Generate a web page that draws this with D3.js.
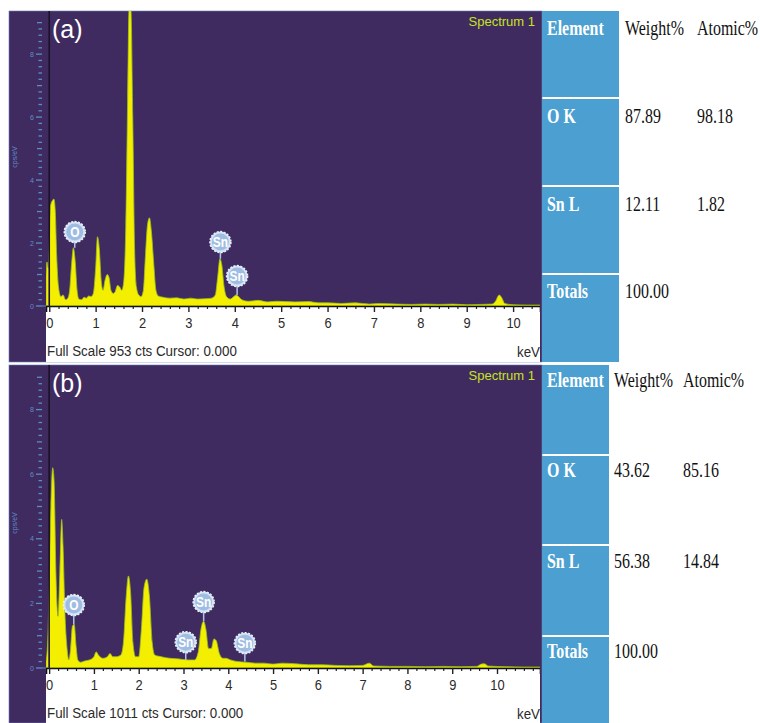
<!DOCTYPE html>
<html><head><meta charset="utf-8">
<script src="https://cdn.jsdelivr.net/npm/d3@7"></script>
<style>body{margin:0;background:#fff} svg{display:block}</style>
</head><body>
<svg id="c" width="760" height="723"></svg>
<script>
// ---------- DATA ----------
const xTickValues = [0,1,2,3,4,5,6,7,8,9,10];
const yTickLabels = [0,2,4,6,8];
const tableHeaders = ["Element","Weight%","Atomic%"];

// Panel (a) spectrum (keV, cps/eV)
const energyA = [-0.07,-0.05,-0.02,0.0,0.03,0.07,0.1,0.13,0.16,0.2,0.25,0.3,0.35,0.4,0.44,0.48,0.52,0.56,0.6,0.64,0.7,0.75,0.8,0.85,0.9,0.95,1.0,1.04,1.08,1.12,1.16,1.2,1.25,1.29,1.33,1.38,1.42,1.47,1.52,1.56,1.6,1.65,1.69,1.72,1.76,1.8,1.84,1.88,1.93,1.98,2.03,2.07,2.12,2.16,2.2,2.25,2.3,2.35,2.45,2.6,2.75,2.9,3.05,3.2,3.35,3.5,3.58,3.63,3.68,3.72,3.77,3.82,3.9,3.98,4.03,4.08,4.15,4.3,4.5,4.7,4.9,5.1,5.3,5.6,5.8,6.0,6.3,6.6,6.9,7.1,7.5,7.8,8.1,8.4,8.7,9.0,9.3,9.55,9.62,9.7,9.76,9.82,10.0,10.3,10.58];
const countsA = [0.9,1.4,1.2,2.0,3.2,3.35,3.4,3.0,1.6,0.6,0.3,0.35,0.2,0.25,0.5,1.3,1.85,1.4,0.5,0.22,0.2,0.28,0.25,0.32,0.3,0.4,1.2,2.2,1.8,0.8,0.5,0.8,1.0,0.9,0.5,0.4,0.45,0.65,0.6,0.5,0.7,2.5,6.5,9.4,9.4,6.0,1.8,0.6,0.35,0.3,0.5,1.5,2.6,2.8,2.4,1.4,0.5,0.32,0.28,0.25,0.26,0.22,0.25,0.22,0.23,0.25,0.35,0.9,1.5,1.3,0.6,0.3,0.22,0.3,0.35,0.3,0.2,0.15,0.18,0.13,0.15,0.14,0.13,0.14,0.1,0.1,0.08,0.1,0.06,0.08,0.06,0.05,0.06,0.05,0.06,0.04,0.05,0.06,0.15,0.35,0.25,0.08,0.04,0.03,0.03];

// Panel (b) spectrum (keV, cps/eV)
const energyB = [-0.07,-0.03,0.0,0.04,0.08,0.11,0.15,0.2,0.24,0.28,0.31,0.35,0.4,0.44,0.48,0.52,0.56,0.6,0.64,0.7,0.8,0.9,1.0,1.05,1.1,1.2,1.3,1.36,1.42,1.5,1.6,1.66,1.72,1.77,1.82,1.87,1.93,2.0,2.06,2.12,2.18,2.24,2.3,2.36,2.5,2.7,2.9,3.1,3.25,3.33,3.39,3.45,3.5,3.56,3.62,3.68,3.73,3.8,3.88,3.95,4.05,4.2,4.4,4.6,4.8,5.0,5.2,5.5,5.8,6.1,6.4,6.7,7.0,7.15,7.25,7.6,8.0,8.4,8.8,9.2,9.55,9.65,9.72,9.8,10.2,10.6,10.96];
const countsB = [0.2,0.9,2.5,5.0,6.2,5.8,3.0,1.6,3.0,4.6,3.8,1.8,0.6,0.25,0.6,1.3,1.35,0.7,0.25,0.18,0.22,0.25,0.35,0.5,0.4,0.3,0.35,0.45,0.35,0.35,0.4,0.8,2.2,2.85,2.3,0.8,0.35,0.35,1.2,2.5,2.75,2.2,0.8,0.4,0.35,0.3,0.28,0.25,0.25,0.5,1.2,1.45,1.2,0.6,0.6,0.9,0.85,0.45,0.3,0.3,0.25,0.2,0.18,0.15,0.15,0.12,0.15,0.13,0.1,0.1,0.08,0.07,0.08,0.15,0.06,0.05,0.05,0.04,0.05,0.04,0.05,0.12,0.13,0.06,0.04,0.03,0.03];

// Peak markers: element, energy, label height, peak top
const markElA = ["O","Sn","Sn"];
const markKeVA = [0.55,3.69,4.05];
const markYA = [2.35,2.03,0.95];
const markPeakA = [1.85,1.5,0.35];
const markElB = ["O","Sn","Sn","Sn"];
const markKeVB = [0.55,3.05,3.45,4.37];
const markYB = [1.95,0.8,2.04,0.77];
const markPeakB = [1.35,0.25,1.45,0.2];

// Tables
const elementsA = ["O K","Sn L","Totals"];
const weightA = ["87.89","12.11","100.00"];
const atomicA = ["98.18","1.82",""];
const elementsB = ["O K","Sn L","Totals"];
const weightB = ["43.62","56.38","100.00"];
const atomicB = ["85.16","14.84",""];

// ---------- DRAW ----------
const svg = d3.select("#c");
const PURPLE = "#402b61";
const BLUE = "#4b9fd1";
const sans = "'Liberation Sans',Arial,sans-serif";

function drawPanel(p) {
  const g = svg.append("g");
  const x = d3.scaleLinear().domain(p.xDomain).range([46, 540]);
  const y = d3.scaleLinear().domain([0, p.yMax]).range([p.axisY, p.top]);

  g.append("rect").attr("x", 9).attr("y", p.top).attr("width", 533).attr("height", p.bottom - p.top)
    .attr("fill", PURPLE).attr("stroke", "#6a7db5").attr("stroke-width", 0.6);
  g.append("rect").attr("x", 46).attr("y", p.axisY).attr("width", 494).attr("height", p.bottom - p.axisY)
    .attr("fill", "#fff");

  const clipId = "clip" + p.name;
  svg.append("clipPath").attr("id", clipId).append("rect")
    .attr("x", 46).attr("y", p.top).attr("width", 494).attr("height", p.axisY - p.top);

  const pts = p.energy.map((e, i) => [e, p.counts[i]]);
  const area = d3.area().x(d => x(d[0])).y0(p.axisY).y1(d => y(d[1])).curve(d3.curveMonotoneX);
  g.append("path").datum(pts).attr("d", area).attr("clip-path", `url(#${clipId})`)
    .attr("fill", "#f4ef00").attr("stroke", "#9cc21c").attr("stroke-width", 0.8);

  g.append("line").attr("x1", x(0)).attr("x2", x(0)).attr("y1", p.top).attr("y2", p.axisY)
    .attr("stroke", "#1a1228").attr("stroke-width", 1.6);

  const yMinor = d3.range(0, 46).map(i => +(i * 0.2).toFixed(1)).filter(v => v <= p.yMax);
  const ya = g.append("g").attr("transform", "translate(42,0)");
  ya.selectAll("line").data(yMinor).join("line")
    .attr("x1", d => Math.abs(d % 2) < 1e-6 ? -6 : (Math.abs(d % 1) < 1e-6 ? -5 : -3.5))
    .attr("x2", 0).attr("y1", d => y(d)).attr("y2", d => y(d))
    .attr("stroke", "#5d8cc6").attr("stroke-width", 1.3);
  ya.selectAll("text").data(yTickLabels).join("text")
    .attr("x", -8).attr("y", d => y(d) + 2.5).attr("text-anchor", "end")
    .attr("font-family", sans).attr("font-size", 7).attr("fill", "#5d8cc6").text(d => d);
  g.append("line").attr("x1", 42).attr("x2", 49).attr("y1", p.axisY).attr("y2", p.axisY)
    .attr("stroke", "#5d8cc6").attr("stroke-width", 1);
  g.append("text").attr("transform", `translate(17,${p.yLabelY}) rotate(-90)`)
    .attr("text-anchor", "middle").attr("font-family", sans).attr("font-size", 7)
    .attr("fill", "#5d8cc6").text("cps/eV");

  const xClip = "xclip" + p.name;
  svg.append("clipPath").attr("id", xClip).append("rect")
    .attr("x", 46).attr("y", p.axisY - 2).attr("width", 494).attr("height", p.bottom - p.axisY + 2);
  const xg = g.append("g").attr("clip-path", `url(#${xClip})`);
  const minor = d3.range(0, 56).map(i => +(i * 0.2).toFixed(1)).filter(v => v <= p.xDomain[1] && v % 1 !== 0);
  const xMinor = d3.axisBottom(x).tickValues(minor).tickSize(3).tickFormat("");
  const xMajor = d3.axisBottom(x).tickValues(xTickValues).tickSize(6).tickPadding(5);
  const gm = xg.append("g").attr("transform", `translate(0,${p.axisY})`).call(xMinor);
  gm.select(".domain").remove();
  gm.selectAll("line").attr("stroke", "#222").attr("stroke-width", 1.2);
  const gM = xg.append("g").attr("transform", `translate(0,${p.axisY})`).call(xMajor);
  gM.select(".domain").attr("stroke", "#111").attr("stroke-width", 1.6);
  gM.selectAll("line").attr("stroke", "#222").attr("stroke-width", 1.4);
  gM.selectAll("text").attr("font-family", sans).attr("font-size", 15).attr("fill", "#2a2a2a")
    .attr("transform", "scale(0.86,1)");

  g.append("text").attr("transform", `translate(47,${p.axisY + 50}) scale(0.89,1)`).attr("font-family", sans)
    .attr("font-size", 15).attr("fill", "#2a2a2a").text(p.footer);
  g.append("text").attr("transform", `translate(540,${p.axisY + 51}) scale(0.89,1)`).attr("text-anchor", "end")
    .attr("font-family", sans).attr("font-size", 15).attr("fill", "#2a2a2a").text("keV");

  g.append("text").attr("x", 52).attr("y", p.top + 27).attr("font-family", sans)
    .attr("font-size", 25).attr("fill", "#fff").text(p.label);
  g.append("text").attr("x", 535).attr("y", p.top + 15).attr("text-anchor", "end")
    .attr("font-family", sans).attr("font-size", 13).attr("fill", "#c7e31c").text("Spectrum 1");

  const marks = p.markEl.map((el, i) => ({el, e: p.markKeV[i], yl: p.markY[i], yp: p.markPeak[i]}));
  const mg = g.selectAll(".mk").data(marks).join("g");
  mg.append("line").attr("x1", d => x(d.e)).attr("x2", d => x(d.e))
    .attr("y1", d => y(d.yl)).attr("y2", d => y(d.yp)).attr("stroke", "#a9c6ea").attr("stroke-width", 1.5);
  mg.append("circle").attr("cx", d => x(d.e)).attr("cy", d => y(d.yl)).attr("r", 10.5)
    .attr("fill", "#d4e3f4").attr("stroke", "#e9f1fa").attr("stroke-width", 1.5).attr("stroke-dasharray", "2,1.5");
  mg.append("circle").attr("cx", d => x(d.e)).attr("cy", d => y(d.yl)).attr("r", 8.5)
    .attr("fill", "#9fbde3");
  mg.append("text").attr("transform", d => `translate(${x(d.e)},${y(d.yl) + 5}) scale(0.85,1)`)
    .attr("text-anchor", "middle")
    .attr("font-family", sans).attr("font-weight", "bold").attr("font-size", 14).attr("fill", "#fff")
    .text(d => d.el);

  const tg = svg.append("g");
  const rowsTop = [p.top, ...p.rowLines.map(v => v + 2)];
  const rowsBot = [...p.rowLines, p.bottom];
  rowsTop.forEach((t, i) => {
    tg.append("rect").attr("x", 542).attr("y", t).attr("width", p.colRight - 542).attr("height", rowsBot[i] - t)
      .attr("fill", BLUE);
  });
  const serif = "'Liberation Serif','Times New Roman',serif";
  const cellText = (tx, ty, s, bold, color) => {
    tg.append("text").attr("transform", `translate(${tx},${ty}) scale(0.76,1)`)
      .attr("font-family", serif).attr("font-size", 21).attr("font-weight", bold ? "bold" : "normal")
      .attr("fill", color).text(s);
  };
  cellText(547, p.rowBase[0], tableHeaders[0], true, "#fff");
  cellText(p.c1, p.rowBase[0], tableHeaders[1], false, "#111");
  cellText(p.c2, p.rowBase[0], tableHeaders[2], false, "#111");
  p.elements.forEach((el, i) => {
    cellText(547, p.rowBase[i + 1], el, true, "#fff");
    cellText(p.c1, p.rowBase[i + 1], p.weight[i], false, "#111");
    cellText(p.c2, p.rowBase[i + 1], p.atomic[i], false, "#111");
  });
}

drawPanel({
  name: "A", top: 11, bottom: 362, axisY: 306, xDomain: [-0.07, 10.58], yMax: 9.37,
  energy: energyA, counts: countsA, label: "(a)", footer: "Full Scale 953 cts Cursor: 0.000",
  yLabelY: 157, markEl: markElA, markKeV: markKeVA, markY: markYA, markPeak: markPeakA,
  colRight: 619, rowLines: [97, 185, 273], rowBase: [35, 123, 211, 298], c1: 625, c2: 697,
  elements: elementsA, weight: weightA, atomic: atomicA
});
drawPanel({
  name: "B", top: 365, bottom: 723, axisY: 668, xDomain: [-0.07, 10.96], yMax: 9.38,
  energy: energyB, counts: countsB, label: "(b)", footer: "Full Scale 1011 cts Cursor: 0.000",
  yLabelY: 523, markEl: markElB, markKeV: markKeVB, markY: markYB, markPeak: markPeakB,
  colRight: 609, rowLines: [454, 544, 635], rowBase: [387, 477, 568, 658], c1: 614, c2: 683,
  elements: elementsB, weight: weightB, atomic: atomicB
});
</script>
</body></html>
